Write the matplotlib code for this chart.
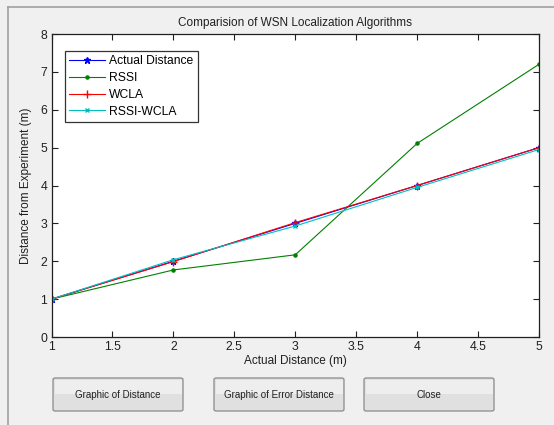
import matplotlib
matplotlib.use("Agg")
import matplotlib.pyplot as plt
from matplotlib.patches import FancyBboxPatch
from matplotlib.lines import Line2D

x_actual = [1, 2, 3, 4, 5]
actual = [1, 2, 3, 4, 5]
rssi = [1, 1.77, 2.17, 5.11, 7.2]
wcla = [1, 1.99, 3.02, 4.0, 5.0]
rssi_wcla = [1, 2.04, 2.93, 3.95, 4.95]

series_names = ["Actual Distance", "RSSI", "WCLA", "RSSI-WCLA"]
xticks = [1, 1.5, 2, 2.5, 3, 3.5, 4, 4.5, 5]
xticklabels = ["1", "1.5", "2", "2.5", "3", "3.5", "4", "4.5", "5"]
yticks = [0, 1, 2, 3, 4, 5, 6, 7, 8]
button_labels = ["Graphic of Distance", "Graphic of Error Distance", "Close"]

W, H = 554, 425
fig = plt.figure(figsize=(W / 100, H / 100), dpi=100)
fig.patch.set_facecolor("#f0f0f0")
plt.rcParams['font.family'] = ['Arial', 'Liberation Sans', 'DejaVu Sans']

# window frame lines
fig.add_artist(Line2D([8 / W, 8 / W], [0, 1 - 7 / H], transform=fig.transFigure,
                      color="#a0a0a0", lw=1.2))
fig.add_artist(Line2D([8 / W, 1], [1 - 7 / H, 1 - 7 / H], transform=fig.transFigure,
                      color="#a0a0a0", lw=1.2))

ax = fig.add_axes([51.5 / W, 1 - 337 / H, (539 - 51.5) / W, (337 - 34) / H])
ax.set_facecolor("white")

ax.plot(x_actual, actual, color="#0000ff", marker="*", ms=5, lw=0.8, label=series_names[0])
ax.plot(x_actual, rssi, color="#008000", marker=".", ms=4.5, lw=0.8, label=series_names[1])
ax.plot(x_actual, wcla, color="#ff0000", marker="+", ms=6, lw=0.8, label=series_names[2])
ax.plot(x_actual, rssi_wcla, color="#00bfbf", marker="x", ms=3.5, lw=0.8, label=series_names[3])

ax.set_xlim(1, 5)
ax.set_ylim(0, 8)
ax.set_xticks(xticks)
ax.set_xticklabels(xticklabels)
ax.set_yticks(yticks)
ax.tick_params(direction="in", length=4, width=0.8, labelsize=8.8, top=True, right=True,
               pad=3, colors="#202020")
for s in ax.spines.values():
    s.set_linewidth(0.9)
    s.set_color("#202020")

ax.set_title("Comparision of WSN Localization Algorithms", fontsize=8.5, pad=6, color="#202020")
ax.set_xlabel("Actual Distance (m)", fontsize=8.5, labelpad=1, color="#202020")
ax.set_ylabel("Distance from Experiment (m)", fontsize=8.5, labelpad=6, color="#202020")

leg = ax.legend(loc="upper left", bbox_to_anchor=(65 / W, 1 - 51 / H),
                bbox_transform=fig.transFigure, fontsize=8.7, frameon=True, fancybox=False,
                handlelength=3.0, handletextpad=0.3, borderpad=0.35, labelspacing=0.4,
                borderaxespad=0)
leg.get_frame().set_edgecolor("black")
leg.get_frame().set_linewidth(0.9)

# buttons
btn_x = [53, 214, 364]
btn_w = 130
btn_y0, btn_y1 = 378, 411
for bx, lab in zip(btn_x, button_labels):
    p = FancyBboxPatch((bx / W, 1 - btn_y1 / H), btn_w / W, (btn_y1 - btn_y0) / H,
                       boxstyle="round,pad=0,rounding_size=0.004",
                       transform=fig.transFigure, facecolor="#e0e0e0",
                       edgecolor="#8a8a8a", lw=0.9)
    fig.add_artist(p)
    p2 = FancyBboxPatch(((bx + 1.5) / W, 1 - (btn_y0 + 16) / H), (btn_w - 3) / W, 14.5 / H,
                        boxstyle="square,pad=0", transform=fig.transFigure,
                        facecolor="#eeeeee", edgecolor="none")
    fig.add_artist(p2)
    fig.text((bx + btn_w / 2) / W, 1 - (btn_y0 + btn_y1) / 2 / H, lab, ha="center",
             va="center", fontsize=7, color="#202020")

fig.savefig("out.png", dpi=100, facecolor=fig.get_facecolor())
